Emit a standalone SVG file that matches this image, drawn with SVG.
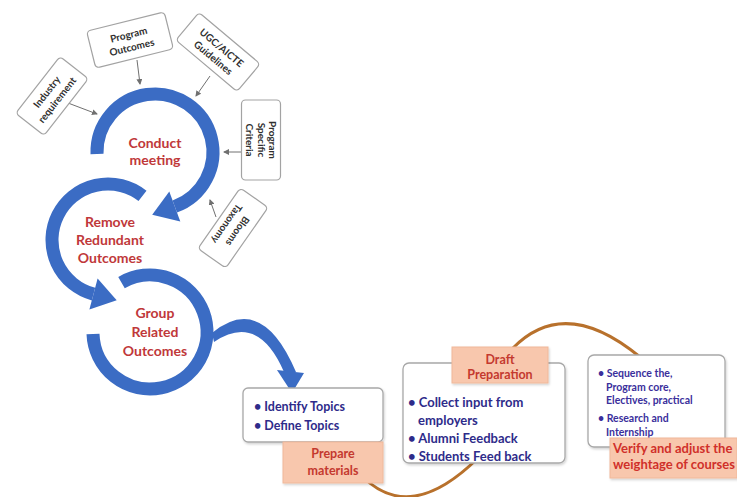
<svg xmlns="http://www.w3.org/2000/svg" width="737" height="497" viewBox="0 0 737 497">
<defs>
<style>
.ib{fill:#fff;stroke:#a3a3a3;stroke-width:1.2}
.it{font-family:Lato,"Liberation Sans",sans-serif;font-weight:bold;font-size:10px;fill:#2f2f2f;text-anchor:middle}
.ring{fill:none;stroke:#3b6cc4;stroke-width:13}
.blue{fill:#3b6cc4}
.ct{font-family:Lato,"Liberation Sans",sans-serif;font-weight:bold;font-size:14px;fill:#c0383a;text-anchor:middle}
.box{fill:#fff;stroke:#a8a8a8;stroke-width:1.3}
.sal{fill:#f8c7ad;stroke:#f0b89a;stroke-width:1}
.bt{font-family:Lato,"Liberation Sans",sans-serif;font-weight:bold;font-size:12.5px;fill:#2e2b8a}
.st{font-family:Lato,"Liberation Sans",sans-serif;font-weight:bold;font-size:10.5px;fill:#3a2f9c}
.rt{font-family:Lato,"Liberation Sans",sans-serif;font-weight:bold;font-size:12.5px;fill:#c4392f;text-anchor:middle}
.thin{fill:none;stroke:#707070;stroke-width:1}
.org{fill:none;stroke:#b8712c;stroke-width:3}
</style>
<marker id="ah" markerWidth="6" markerHeight="6" refX="5" refY="3" orient="auto" markerUnits="userSpaceOnUse">
<path d="M0,0 L6,3 L0,6 Z" fill="#707070"/>
</marker>
<filter id="sh" x="-10%" y="-10%" width="120%" height="130%">
<feDropShadow dx="1" dy="1.5" stdDeviation="1.2" flood-color="#000" flood-opacity="0.18"/>
</filter>
</defs>
<rect width="737" height="497" fill="#fff"/>

<g id="connectors">
<path class="thin" d="M68,103 L97,114" marker-end="url(#ah)"/>
<path class="thin" d="M137,60 L140,84" marker-end="url(#ah)"/>
<path class="thin" d="M210,76 L196,96" marker-end="url(#ah)"/>
<path class="thin" d="M242,152 L224,152" marker-end="url(#ah)"/>
<path class="thin" d="M216,217 L210,200" marker-end="url(#ah)"/>
<path class="blue" d="M212,333 Q262,292 296,372 L284,372 Q258,312 214,342 Z"/>
<polygon class="blue" points="277,370 304,373 292,393"/>
<path class="org" d="M362,476 Q410,525 478,458"/>
<path class="org" d="M513,348 Q565,295 640,357"/>
</g>

<g id="industry" transform="translate(52,96) rotate(-52)">
<rect class="ib" x="-36" y="-18" width="72" height="36" rx="4"/>
<text class="it" x="0" y="-3">Industry</text>
<text class="it" x="0" y="10">requirement</text>
</g>
<g id="program-outcomes" transform="translate(130,40) rotate(-14)">
<rect class="ib" x="-40" y="-19" width="80" height="38" rx="4"/>
<text class="it" x="0" y="-2">Program</text>
<text class="it" x="0" y="11">Outcomes</text>
</g>
<g id="ugc" transform="translate(218,52) rotate(40)">
<rect class="ib" x="-40" y="-18" width="80" height="36" rx="4"/>
<text class="it" x="0" y="-2">UGC/AICTE</text>
<text class="it" x="0" y="11">Guidelines</text>
</g>
<g id="program-specific" transform="translate(261,140) rotate(90)">
<rect class="ib" x="-40" y="-19.5" width="80" height="39" rx="4"/>
<text class="it" x="0" y="-8">Program</text>
<text class="it" x="0" y="3.5">Specific</text>
<text class="it" x="0" y="15">Criteria</text>
</g>
<g id="blooms" transform="translate(233,228) rotate(125)">
<rect class="ib" x="-37" y="-17" width="74" height="34" rx="4"/>
<text class="it" x="0" y="-2">Blooms</text>
<text class="it" x="0" y="11">Taxonomy</text>
</g>

<g id="conduct-meeting">
<path class="ring" d="M97,154 A58 58 0 1 1 174.8,206.5"/>
<polygon class="blue" points="180.3,221.5 169.3,191.5 152.2,214.7"/>
<text class="ct" x="155" y="148">Conduct</text>
<text class="ct" x="155" y="165">meeting</text>
</g>

<g id="remove-redundant">
<path class="ring" d="M142.5,195.9 A56 56 0 1 0 93.5,294.1"/>
<polygon class="blue" points="89.4,309.6 97.6,278.6 116.7,300.3"/>
<text class="ct" x="110" y="227">Remove</text>
<text class="ct" x="110" y="245">Redundant</text>
<text class="ct" x="110" y="263">Outcomes</text>
</g>

<g id="group-related">
<path class="ring" d="M121.5,282.6 A57 57 0 1 1 93,334"/>
<text class="ct" x="155" y="318">Group</text>
<text class="ct" x="155" y="337">Related</text>
<text class="ct" x="155" y="356">Outcomes</text>
</g>

<g id="prepare-materials">
<rect class="box" x="243" y="388" width="140" height="54" rx="5" filter="url(#sh)"/>
<text class="bt" x="254" y="411">• Identify Topics</text>
<text class="bt" x="254" y="430">• Define Topics</text>
<rect class="sal" x="283" y="442" width="100" height="41" filter="url(#sh)"/>
<text class="rt" x="333" y="458">Prepare</text>
<text class="rt" x="333" y="475">materials</text>
</g>

<g id="draft-preparation">
<rect class="box" x="403" y="363" width="162" height="100" rx="6" filter="url(#sh)"/>
<rect class="sal" x="452" y="347" width="96" height="36" filter="url(#sh)"/>
<text class="rt" x="500" y="364">Draft</text>
<text class="rt" x="500" y="379">Preparation</text>
<text class="bt" x="408" y="407" style="font-size:13px">• Collect input from</text>
<text class="bt" x="418" y="425" style="font-size:13px">employers</text>
<text class="bt" x="408" y="443" style="font-size:13px">• Alumni Feedback</text>
<text class="bt" x="408" y="461" style="font-size:13px">• Students Feed back</text>
</g>

<g id="verify-adjust">
<rect class="box" x="588" y="355" width="137" height="92" rx="6" filter="url(#sh)"/>
<text class="st" x="598" y="377">• Sequence the,</text>
<text class="st" x="606" y="391">Program core,</text>
<text class="st" x="606" y="404">Electives, practical</text>
<text class="st" x="598" y="422">• Research and</text>
<text class="st" x="606" y="436">Internship</text>
<rect class="sal" x="610" y="438" width="127" height="40" filter="url(#sh)"/>
<text class="rt" x="613" y="453" style="text-anchor:start;fill:#d0302a;font-size:13px">Verify and adjust the</text>
<text class="rt" x="613" y="469" style="text-anchor:start;fill:#d0302a;font-size:13px">weightage of courses</text>
</g>
</svg>
